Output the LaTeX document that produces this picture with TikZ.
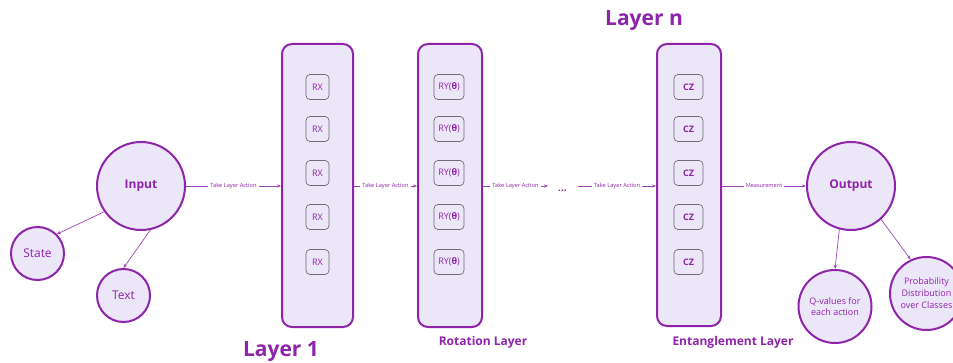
\documentclass[tikz,border=0pt]{standalone}
\usepackage{fontspec}
\setmainfont{Open Sans}
\usetikzlibrary{arrows.meta}
\definecolor{pur}{RGB}{142,36,170}
\definecolor{lav}{RGB}{236,230,249}
\definecolor{gatec}{RGB}{115,105,120}

\begin{document}
\begin{tikzpicture}[x=1pt,y=-1pt,
  bubble/.style={circle,draw=pur,line width=2pt,fill=lav,inner sep=0pt,text=pur,align=center},
  layerbox/.style={draw=pur,line width=2pt,fill=lav,rounded corners=10pt,inner sep=0pt},
  gate/.style={draw=gatec,line width=0.7pt,rounded corners=4pt,fill=lav,minimum height=25pt,
    text=pur,font=\fontsize{9}{10}\selectfont,inner sep=0pt},
  flow/.style={draw=pur!85,line width=0.7pt,-{Stealth[length=4pt,width=3.2pt]}},
  flowlabel/.style={fill=white,text=pur,font=\fontsize{5.7}{6}\selectfont,inner xsep=2pt,inner ysep=1pt},
  bigtitle/.style={text=pur,font=\fontsize{21}{24}\bfseries\selectfont},
  subtitle/.style={text=pur,font=\fontsize{12}{14}\bfseries\selectfont}
]
\useasboundingbox[fill=white] (0,0) rectangle (953,363);

% input side
\node[bubble,minimum size=88pt,font=\fontsize{12}{14}\bfseries\selectfont] (in) at (141,186) {Input};
\node[bubble,minimum size=53pt,font=\fontsize{12}{14}\selectfont] (st) at (37.5,253.5) {State};
\node[bubble,minimum size=53pt,font=\fontsize{12}{14}\selectfont] (tx) at (123.5,295.5) {Text};

% layer columns
\node[layerbox,minimum width=71pt,minimum height=283pt] (l1) at (317.5,185.5) {};
\node[layerbox,minimum width=64pt,minimum height=283pt] (rot) at (450,185.5) {};
\node[layerbox,minimum width=64pt,minimum height=282pt] (ent) at (689,185) {};

% gates
\foreach \i/\y in {1/87,2/129,3/173,4/217,5/262}{
  \node[gate,minimum width=23pt] (rx\i) at (317.5,\y) {RX};
  \node[gate,minimum width=30pt] (ry\i) at (449,\y) {RY(\textbf{θ})};
  \node[gate,minimum width=29pt,font=\fontsize{9}{10}\bfseries\selectfont] (cz\i) at (688.5,\y) {CZ};
}

% ellipsis between the rotation and entanglement layers
\coordinate (dotsL) at (548,186);
\coordinate (dotsR) at (578,186);
\node[text=pur,font=\fontsize{10}{12}\bfseries\selectfont,inner sep=0pt] (dots) at (562.5,191) {...};

% output side
\node[bubble,minimum size=88pt,font=\fontsize{12}{14}\bfseries\selectfont] (out) at (851,186) {Output};
\node[bubble,minimum size=73pt,font=\fontsize{9}{11.5}\selectfont] (q) at (835,306.5) {Q-values for\\each action};
\node[bubble,minimum size=73pt,font=\fontsize{9}{12}\selectfont] (pr) at (926.5,293.5) {Probability\\Distribution\\over Classes};

% connectors
\draw[flow] (in.east) -- node[flowlabel] {Take Layer Action} (in.east -| l1.west);
\draw[flow] (l1.east |- in.east) -- node[flowlabel] {Take Layer Action} (in.east -| rot.west);
\draw[flow] (rot.east |- in.east) -- node[flowlabel] {Take Layer Action} (dotsL);
\draw[flow] (dotsR) -- node[flowlabel] {Take Layer Action} (dotsR -| ent.west);
\draw[flow] (ent.east |- out.west) -- node[flowlabel,font=\fontsize{5.6}{6}\selectfont] {Measurement} (out.west);

\draw[flow] (in.-145) -- (st.45);
\draw[flow] (in.-78) -- (tx.north);
\draw[flow] (out.-105) -- (q.north);
\draw[flow] (out.-48) -- (pr.115);

% titles
\node[bigtitle] (t1) at (281,352) {Layer 1};
\node[bigtitle] (tn) at (644,21) {Layer n};
\node[subtitle] (trot) at (483,342) {Rotation Layer};
\node[subtitle] (tent) at (733,342) {Entanglement Layer};
\end{tikzpicture}
\end{document}
